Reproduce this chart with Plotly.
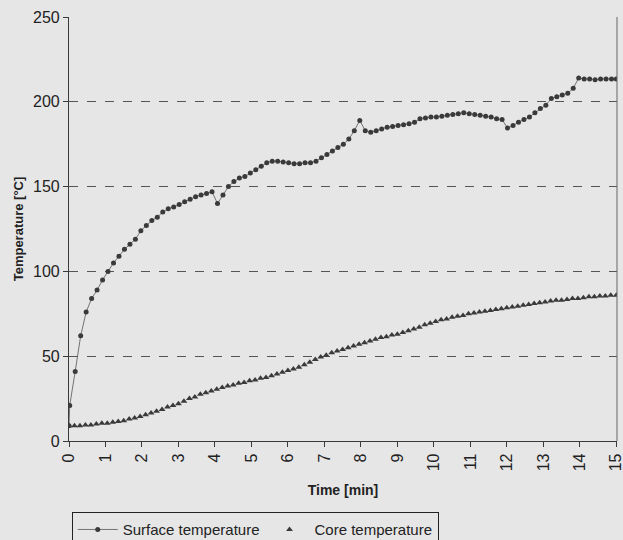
import plotly.graph_objects as go

# ---- data ----
surface_temp = [
    9, 21,
    41, 62, 76, 84, 89, 95, 100, 105, 109, 113,
    116, 119, 124, 127, 130, 132, 135, 137, 138, 139.5,
    141, 142.5, 144, 145, 146, 147, 140, 145, 150, 153,
    155, 156, 158, 160, 162, 164, 165, 165, 164.5, 164,
    163.5, 163.5, 164, 164, 165, 167, 169, 171, 173, 175,
    178, 183, 189, 183, 182, 183, 184, 185, 185.5, 186,
    186.5, 187, 188, 190, 190.5, 191, 191, 191.5, 192, 192.5,
    193, 193.5, 193, 192.5, 192, 191.5, 191, 190, 189.5, 184.5,
    186, 188, 189.5, 191, 193.5, 196, 198, 202, 203, 204,
    205, 208, 214, 213.5, 213.5, 213, 213.5, 213.5, 213.5,
    213.5,
]
surface_time = [0, 0.02] + [round(0.17 + 0.15 * i, 2) for i in range(99)] + [15.0]

core_temp = [
    9, 9, 9, 9.5, 9.5, 10, 10.5, 10.5, 11, 11.5,
    12, 13, 13.5, 14.5, 15.5, 16.5, 17.5, 18.5, 20, 21,
    22, 23.5, 25, 26, 27.5, 28.5, 29.5, 30.5, 31.5, 32.5,
    33, 34, 34.5, 35.5, 36, 37, 37.5, 38.5, 39.5, 40.5,
    41.5, 42.5, 43.5, 45, 46.5, 48, 49.5, 50.5, 52, 53,
    54, 55, 56, 57, 58, 59, 60, 61, 61.5, 62.5,
    63, 64, 65, 66, 67, 68.5, 69.5, 70.5, 71.5, 72,
    73, 73.5, 74, 75, 75.5, 76, 76.5, 77, 77.5, 78,
    78.5, 79, 79.5, 80, 80.5, 81, 81.5, 82, 82.5, 83,
    83, 83.5, 84, 84, 84.5, 85, 85, 85.5, 85.5, 86,
    86,
]
core_time = [round(0.15 * i, 2) for i in range(101)]

x_ticks = list(range(0, 16))
y_ticks = [0, 50, 100, 150, 200, 250]

assert len(surface_temp) == len(surface_time)
assert len(core_temp) == len(core_time)

ink = "#3a3a3a"
bg = "#e6e6e6"
font = "Liberation Sans"

fig = go.Figure()
fig.add_trace(go.Scatter(
    x=surface_time, y=surface_temp, mode="lines+markers",
    name="Surface temperature",
    line=dict(color="#555", width=0.8),
    marker=dict(symbol="circle", size=5, color=ink),
))
fig.add_trace(go.Scatter(
    x=core_time, y=core_temp, mode="markers",
    name="Core temperature",
    marker=dict(symbol="triangle-up", size=6, color=ink),
))

fig.update_layout(
    width=623, height=540,
    margin=dict(l=69, r=6, t=17, b=99, autoexpand=False),
    paper_bgcolor=bg, plot_bgcolor=bg,
    font=dict(family=font, size=16, color="#222"),
    showlegend=True,
    legend=dict(
        orientation="h", x=0.005, y=-0.168, xanchor="left", yanchor="top",
        bordercolor="#222", borderwidth=1, bgcolor="rgba(0,0,0,0)",
        font=dict(family=font, size=15, color="#222"),
        itemwidth=40,
    ),
)
fig.update_xaxes(
    range=[0, 15.02], tickvals=x_ticks, ticktext=[str(v) for v in x_ticks],
    tickangle=-90, ticks="outside", ticklen=5, tickcolor=ink,
    ticklabeloverflow="allow",
    showline=True, linecolor=ink, linewidth=1.2,
    showgrid=False, zeroline=False,
    title=dict(text="<b>Time [min]</b>", font=dict(family=font, size=14), standoff=14),
)
fig.update_yaxes(
    range=[0, 250], tickvals=y_ticks,
    ticks="outside", ticklen=5, tickcolor=ink,
    showline=True, linecolor=ink, linewidth=1.2,
    showgrid=True, gridcolor="#555", griddash="dash", gridwidth=0.8,
    zeroline=False,
    title=dict(text="<b>Temperature [°C]</b>", font=dict(family=font, size=13), standoff=6),
)
# right frame line
fig.add_shape(type="line", xref="x domain", yref="y domain",
              x0=1, x1=1, y0=0, y1=1, line=dict(color="#666", width=1))

fig.write_html("out.html")
